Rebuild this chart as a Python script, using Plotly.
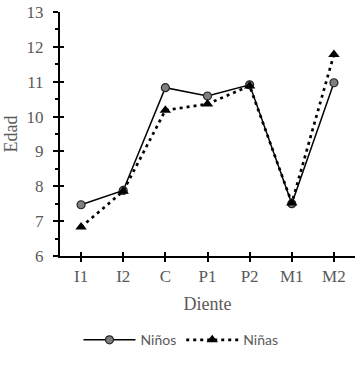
import plotly.graph_objects as go

dientes = ["I1", "I2", "C", "P1", "P2", "M1", "M2"]
ninos = [7.47, 7.88, 10.83, 10.59, 10.91, 7.5, 10.97]
ninas = [6.83, 7.86, 10.18, 10.36, 10.88, 7.52, 11.78]
y_ticks = [6, 7, 8, 9, 10, 11, 12, 13]

gray = "#595959"
serif = "Liberation Serif, Times New Roman, serif"

fig = go.Figure()
fig.add_trace(go.Scatter(
    x=dientes, y=ninos, name="Niños", mode="lines+markers",
    line=dict(color="black", width=1.5),
    marker=dict(symbol="circle", size=8, color="#7f7f7f", line=dict(color="#262626", width=1.2)),
))
fig.add_trace(go.Scatter(
    x=dientes, y=ninas, name="Niñas", mode="lines+markers",
    line=dict(color="black", width=2.7, dash="3px,4px"),
    marker=dict(symbol="triangle-up", size=10, color="black"),
))

fig.update_layout(
    width=363, height=367,
    margin=dict(l=60, r=8, t=12, b=111, autoexpand=False),
    plot_bgcolor="white", paper_bgcolor="white",
    showlegend=True,
    legend=dict(orientation="h", x=0.41, xanchor="center", y=-0.345, yanchor="middle",
                font=dict(family="Lato, Open Sans, sans-serif", size=14, color=gray),
                itemwidth=52, tracegroupgap=0),
    xaxis=dict(
        type="category", categoryorder="array", categoryarray=dientes,
        range=[-0.5, 6.5], showgrid=False, zeroline=False, automargin=False,
        showline=True, linecolor="black", linewidth=2,
        ticks="outside", ticklen=4, tickwidth=2, tickcolor="black",
        tickfont=dict(family=serif, size=17, color=gray),
        title=dict(text="Diente", font=dict(family=serif, size=18, color=gray), standoff=12),
    ),
    xaxis2=dict(
        overlaying="x", matches="x", type="category", range=[-0.5, 6.5],
        showgrid=False, zeroline=False, showline=False, showticklabels=False, automargin=False,
        ticks="inside", ticklen=4, tickwidth=2, tickcolor="black", side="bottom",
        categoryorder="array", categoryarray=dientes,
    ),
    yaxis=dict(
        range=[6, 13], tickvals=y_ticks, showgrid=False, zeroline=False, automargin=False,
        showline=True, linecolor="black", linewidth=2,
        ticks="outside", ticklen=5, tickwidth=2, tickcolor="black",
        minor=dict(dtick=0.5, ticks="outside", ticklen=3, tickwidth=2, tickcolor="black"),
        tickfont=dict(family=serif, size=17, color=gray), ticklabelstandoff=6,
        title=dict(text="Edad", font=dict(family=serif, size=18, color=gray), standoff=4),
    ),
    yaxis2=dict(
        overlaying="y", range=[6, 13], tickvals=y_ticks, showgrid=False, zeroline=False,
        showline=False, showticklabels=False, automargin=False,
        ticks="inside", ticklen=4, tickwidth=2, tickcolor="black",
    ),
)
# invisible trace to activate overlay axes
fig.add_trace(go.Scatter(x=dientes, y=ninos, xaxis="x2", yaxis="y2", mode="none",
                         showlegend=False, hoverinfo="skip"))

fig.write_html("out.html", config={"displayModeBar": False},
               post_script="document.body.style.margin='0';")
